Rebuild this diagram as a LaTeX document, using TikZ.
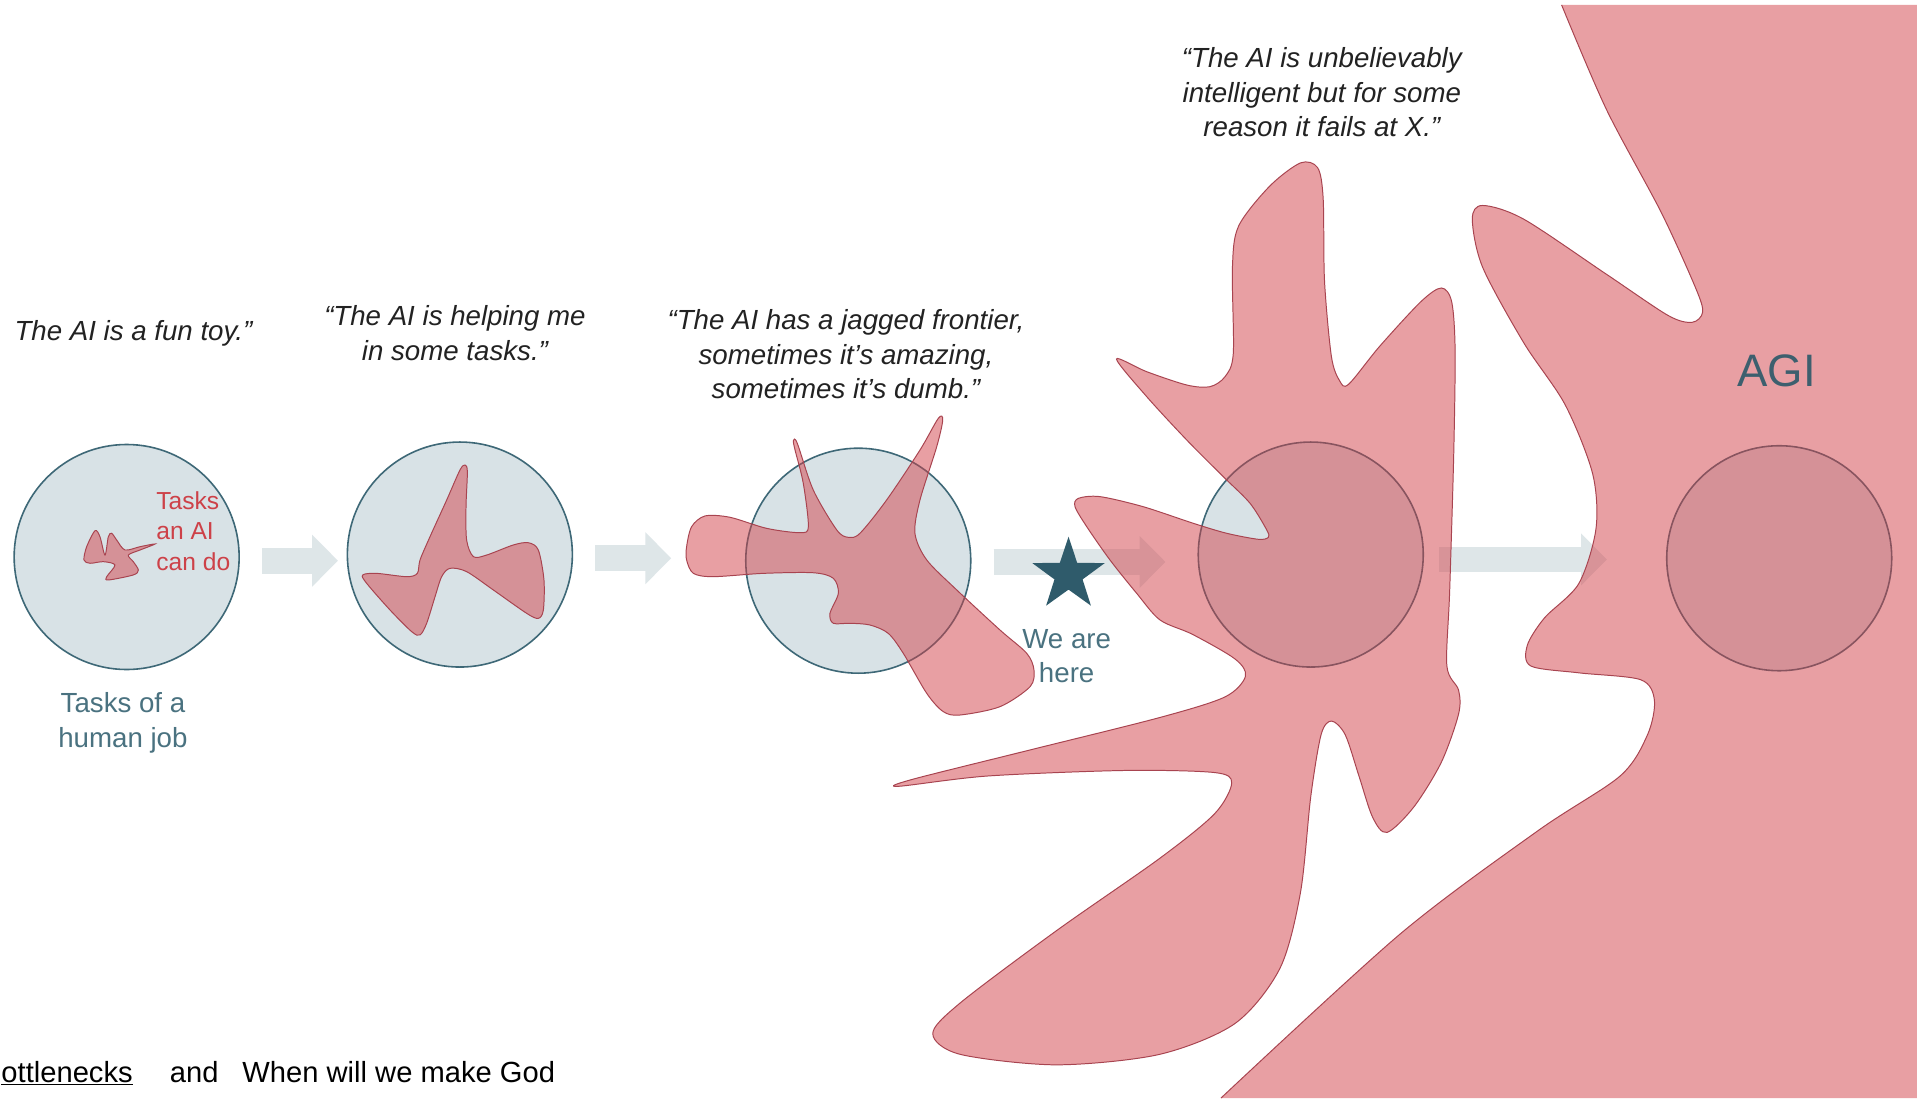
\documentclass[tikz,border=0pt]{standalone}
\usepackage{fontspec}
\setmainfont{Liberation Sans}
\usetikzlibrary{arrows.meta}
\definecolor{circfill}{RGB}{216,226,230}
\definecolor{circline}{RGB}{62,104,119}
\definecolor{blobfill}{RGB}{211,65,73}
\definecolor{blobline}{RGB}{168,68,80}
\definecolor{arrowc}{RGB}{222,230,232}
\definecolor{tealtext}{RGB}{74,114,128}
\definecolor{agitext}{RGB}{61,95,110}
\definecolor{starc}{RGB}{47,91,107}
\definecolor{redtext}{RGB}{205,65,72}
\definecolor{quotec}{RGB}{34,34,34}
\tikzset{
  circ/.style={circle, draw=circline, line width=1.3pt, fill=circfill, minimum size=183pt, inner sep=0pt},
  blob/.style={fill=blobfill, fill opacity=0.5, draw=blobline, line width=0.8pt},
  blobfillonly/.style={fill=blobfill, fill opacity=0.5},
  blobedge/.style={draw=blobline, line width=0.8pt},
  bigarrow/.style={draw=arrowc, line width=21pt, -{Triangle[width=41pt,length=21pt]}},
  quote/.style={font=\fontsize{22.5}{28}\selectfont\itshape, text=quotec, align=center, inner sep=0pt},
  redlbl/.style={font=\fontsize{20}{24.5}\selectfont, text=redtext, align=left, inner sep=0pt},
  teallbl/.style={font=\fontsize{22.5}{28}\selectfont, text=tealtext, align=center, inner sep=0pt},
  agilbl/.style={font=\fontsize{37}{40}\selectfont, text=agitext, inner sep=0pt},
  bottomtxt/.style={font=\fontsize{23.7}{28}\selectfont, text=black, inner sep=0pt},
  starshape/.style={fill=starc},
}
\begin{document}
\begin{tikzpicture}[x=1pt,y=-1pt]
\useasboundingbox (0,0) rectangle (1568,893);
\fill[white] (0,0) rectangle (1568,893);

% circles
\node[circ] (c1) at (103,453) {};
\node[circ] (c2) at (374,451) {};
\node[circ] (c3) at (698,456) {};
\node[circ] (c4) at (1066,451) {};
\node[circ] (c5) at (1447,454) {};

% arrows
\draw[bigarrow] ([xshift=18pt,yshift=-3pt]c1.east) -- ([xshift=-7pt,yshift=-5pt]c2.west);
\draw[bigarrow] ([xshift=18pt,yshift=-3pt]c2.east) -- ([xshift=-60pt,yshift=2pt]c3.west);
\draw[bigarrow] ([xshift=18pt,yshift=-1pt]c3.east) -- ([xshift=-26pt,yshift=-6pt]c4.west);
\draw[bigarrow] ([xshift=12pt,yshift=-4pt]c4.east) -- ([xshift=-48pt,yshift=-1pt]c5.west);

% blob 1
\draw[blob] plot[smooth cycle, tension=0.5] coordinates {
(68.3,455.4) (70.5,444.6) (77.3,431.6) (81.3,436.5) (85.4,451.4) (88.1,436.5) (90.8,433.7)
(94.9,439.2) (101.7,447.3) (113.9,444.6) (126.1,442.4) (113.9,447.3) (104.4,451.4) (108.4,456.8)
(112.5,463.6) (108.4,467.6) (88.1,471.7) (86.8,469) (93.5,459.5) (84,456.8) (73.2,458.1)};

% blob 2
\draw[blob] plot[smooth cycle, tension=0.5] coordinates {
(295,467.6) (306.3,466.3) (330.7,469) (339.4,466.3) (341.6,455.4) (349.7,436.5) (363.3,406.6)
(374.1,382.2) (378.2,378.2) (380.1,383.6) (379,412) (379.5,439.2) (385,452.7) (395.8,451.4)
(417.5,443.2) (429.7,441.4) (437.8,447.3) (442.4,471.7) (441.9,496.1) (437.8,502.9) (428.3,498.8)
(401.2,479.8) (379.5,464.9) (366,462.2) (359.2,469) (353.8,485.3) (347,506.9) (341.6,516.4)
(334.8,513.7) (317.2,496.1) (298.2,474.4)};

% blob 3
\draw[blob] plot[smooth cycle, tension=0.5] coordinates {
(558.4,444.6) (562.5,428.3) (573.4,419.6) (593.7,420.7) (623.5,429.7) (650.6,433.2) (657.4,428.3)
(653.3,393.1) (646.6,366) (645.2,358.4) (648.4,360.5) (661.4,398.5) (680.5,431) (689.9,437)
(699.4,433.7) (721.1,406.6) (748.2,366) (763.1,340.2) (766.7,341.6) (761.8,363.3) (748.2,406.6)
(744.1,433.7) (753.7,455.4) (778.1,479.8) (813.3,512.4) (835,531.3) (840.9,544.9) (837.7,558.5)
(813.3,574.7) (780.7,581.5) (767.2,578.8) (753.7,563.9) (734.6,531.3) (722.4,515.1) (707.5,508.3)
(691.3,506.9) (677.7,506.9) (675,498.8) (681.8,482.5) (677.7,470.3) (661.4,465.8) (620.8,466.3)
(580.1,469) (563.9,466.3) (558.4,455.4)};

% blob 4
\draw[blob] plot[smooth cycle, tension=0.5] coordinates {
(908,292) (932.6,302.3) (965.1,313.1) (984,314.5) (996.3,306.3) (1003,287.4) (1002.3,217.4)
(1007.3,183.9) (1032.5,151.5) (1057.6,132.5) (1071.6,136.4) (1076.1,161.5) (1077.2,228.6)
(1082.8,290) (1089.5,309.7) (1096.8,312.5) (1122,281.7) (1155.5,245.4) (1172.2,234.2)
(1180.6,245.4) (1183.4,284.5) (1182.3,368.4) (1179,480.2) (1176.7,541.6) (1186.2,561.2)
(1186.2,580.8) (1172.2,619.9) (1149.9,656.2) (1128,677) (1116.3,664.6) (1105.2,631.1)
(1094,597.5) (1082.8,586.4) (1074.4,597.5) (1066,647.9) (1057.6,726.1) (1040.9,787.6)
(1004.5,832.3) (943,857.5) (859.2,866) (781,857.5) (758.6,840.7) (781,815.6) (859.2,756.9)
(943,698.2) (987.8,661.8) (1001.7,636.7) (987.8,628.3) (915.1,626.6) (803.3,631.1) (730.6,639.5)
(741.8,633.9) (831.3,611.5) (943,583.6) (996.2,566.8) (1012.9,550) (1004.5,536) (970,516)
(943.4,504.2) (924.4,482.5) (902.7,455.4) (883.8,428.3) (874.3,412.1) (877,405.3) (894.6,403.9)
(929.8,412.1) (970.5,425.6) (997.6,433.7) (1023.4,438.6) (1031.5,437) (1030.2,431) (1016.6,409.3)
(994.9,387.7) (965.1,357.8) (932.6,322.6)};

% AGI region
\fill[blobfillonly] (1559,4) -- (1559,893) -- (993,893) -- plot[smooth, tension=0.5] coordinates {
(993,893) (1138.7,759.6) (1250.5,675.8) (1317.6,631.1) (1339.9,597.5) (1345.5,569.6) (1334.3,552.8)
(1284,547.2) (1244.9,541.6) (1242.1,524.9) (1256.1,502.5) (1284,474.6) (1298,429.8) (1295.2,385.1)
(1272.9,329.2) (1239.3,278.9) (1205.8,217.4) (1197.4,178.3) (1205.8,167.1) (1239.3,178.3)
(1306.4,223) (1356.7,256.6) (1376.3,262.1) (1384.7,253.8) (1379,234.2) (1351,172.7) (1306.4,88.9)
(1270,4)} -- cycle;
\draw[blobedge] plot[smooth, tension=0.5] coordinates {
(993,893) (1138.7,759.6) (1250.5,675.8) (1317.6,631.1) (1339.9,597.5) (1345.5,569.6) (1334.3,552.8)
(1284,547.2) (1244.9,541.6) (1242.1,524.9) (1256.1,502.5) (1284,474.6) (1298,429.8) (1295.2,385.1)
(1272.9,329.2) (1239.3,278.9) (1205.8,217.4) (1197.4,178.3) (1205.8,167.1) (1239.3,178.3)
(1306.4,223) (1356.7,256.6) (1376.3,262.1) (1384.7,253.8) (1379,234.2) (1351,172.7) (1306.4,88.9)
(1270,4)};

% star
\begin{scope}[shift={(869,467.5)}]
\fill[starshape] (-90:31) -- (-54:12) -- (-18:31) -- (18:12) -- (54:31) -- (90:12)
  -- (126:31) -- (162:12) -- (198:31) -- (234:12) -- cycle;
\end{scope}

% texts
\node[quote] (q1) at (108.5,271) {The AI is a fun toy.”};
\node[quote] (q2) at (370,271) {“The AI is helping me\\in some tasks.”};
\node[quote] (q3) at (688,288) {“The AI has a jagged frontier,\\sometimes it’s amazing,\\sometimes it’s dumb.”};
\node[quote] (q4) at (1075,75) {“The AI is unbelievably\\intelligent but for some\\reason it fails at X.”};
\node[redlbl, anchor=west] (tl) at (127,432) {Tasks\\an AI\\can do};
\node[teallbl] (hj) at (100,588) {Tasks of a\\human job};
\node[teallbl] (wh) at (867.5,533.5) {We are\\here};
\node[agilbl] (agi) at (1445,302) {AGI};
\node[bottomtxt, anchor=base west] (b1) at (1,880) {\underline{ottlenecks}};
\node[bottomtxt, anchor=base west] (b2) at (138,880) {and};
\node[bottomtxt, anchor=base west] (b3) at (197,880) {When will we make God};
\end{tikzpicture}
\end{document}
